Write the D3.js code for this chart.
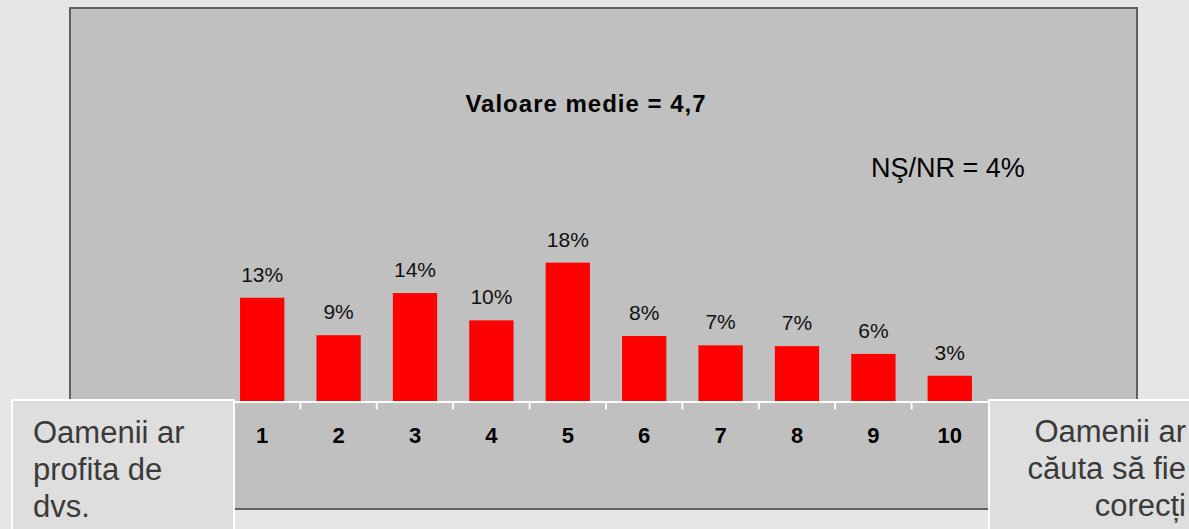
<!DOCTYPE html>
<html>
<head>
<meta charset="utf-8">
<script src="https://cdn.jsdelivr.net/npm/d3@7"></script>
<style>
  body { margin: 0; background: #e6e6e6; }
  svg { display: block; font-family: "Liberation Sans", Arial, sans-serif; }
</style>
</head>
<body>
<div id="chart"></div>
<script>
// values
const categories = ["1", "2", "3", "4", "5", "6", "7", "8", "9", "10"];
const values = [13.3, 8.5, 13.9, 10.4, 17.8, 8.4, 7.2, 7.1, 6.1, 3.3];
const valueLabels = ["13%", "9%", "14%", "10%", "18%", "8%", "7%", "7%", "6%", "3%"];
const meanLabel = "Valoare medie = 4,7";
const dkLabel = "NŞ/NR = 4%";
const leftLines = ["Oamenii ar", "profita de", "dvs."];
const rightLines = ["Oamenii ar", "căuta să fie", "corecți"];

let svg = d3.select("#chart").append("svg");
svg.attr("width", 1189).attr("height", 529);

// grey plot panel
svg.append("rect").attr("x", 70).attr("y", 8).attr("width", 1067).attr("height", 501)
  .attr("fill", "#c0c0c0").attr("stroke", "#606060").attr("stroke-width", 2);

let x = d3.scaleBand().domain(categories).range([224, 988])
  .paddingInner(0.42).paddingOuter(0.21);
let y = d3.scaleLinear().domain([0, 50]).range([401.5, 11.5]);

let plot = svg.append("g");

plot.selectAll(".bar").data(values).enter().append("rect")
  .attr("class", "bar")
  .attr("x", (d, i) => x(categories[i]))
  .attr("y", d => y(d))
  .attr("width", x.bandwidth())
  .attr("height", d => y(0) - y(d))
  .attr("fill", "#ff0000");

plot.selectAll(".vlab").data(values).enter().append("text")
  .attr("class", "vlab")
  .attr("x", (d, i) => x(categories[i]) + x.bandwidth() / 2)
  .attr("y", d => y(d) - 16)
  .attr("text-anchor", "middle")
  .attr("font-size", 21).attr("fill", "#111")
  .text((d, i) => valueLabels[i]);

// axis: white line, ticks between the categories
let step = x.step();
plot.append("line").attr("x1", 224).attr("x2", 988)
  .attr("y1", y(0) + 0.5).attr("y2", y(0) + 0.5)
  .attr("stroke", "#fff").attr("stroke-width", 2);
plot.selectAll(".tick").data(categories.slice(0, -1)).enter().append("line")
  .attr("class", "tick")
  .attr("x1", d => x(d) + x.bandwidth() / 2 + step / 2)
  .attr("x2", d => x(d) + x.bandwidth() / 2 + step / 2)
  .attr("y1", y(0)).attr("y2", y(0) + 8)
  .attr("stroke", "#fff").attr("stroke-width", 2);
plot.selectAll(".clab").data(categories).enter().append("text")
  .attr("class", "clab")
  .attr("x", d => x(d) + x.bandwidth() / 2)
  .attr("y", 443)
  .attr("text-anchor", "middle")
  .attr("font-size", 22).attr("font-weight", "bold").attr("fill", "#000")
  .text(d => d);

svg.append("text").attr("x", 586).attr("y", 112)
  .attr("text-anchor", "middle").attr("font-size", 24).attr("font-weight", "bold")
  .attr("letter-spacing", 1).attr("fill", "#000")
  .text(meanLabel);

svg.append("text").attr("x", 871).attr("y", 177)
  .attr("font-size", 27).attr("fill", "#000")
  .text(dkLabel);

// end-of-scale boxes
svg.append("rect").attr("x", 12).attr("y", 400).attr("width", 222).attr("height", 140)
  .attr("fill", "#dedede").attr("stroke", "#fff").attr("stroke-width", 2);
svg.append("rect").attr("x", 989).attr("y", 400).attr("width", 220).attr("height", 140)
  .attr("fill", "#dedede").attr("stroke", "#fff").attr("stroke-width", 2);

svg.selectAll(".ltxt").data(leftLines).enter().append("text")
  .attr("class", "ltxt")
  .attr("x", 33).attr("y", (d, i) => 443 + i * 37)
  .attr("font-size", 31).attr("fill", "#3a3a3a")
  .text(d => d);
svg.selectAll(".rtxt").data(rightLines).enter().append("text")
  .attr("class", "rtxt")
  .attr("x", 1186).attr("y", (d, i) => 442 + i * 37)
  .attr("text-anchor", "end")
  .attr("font-size", 31).attr("fill", "#3a3a3a")
  .text(d => d);
</script>
</body>
</html>
